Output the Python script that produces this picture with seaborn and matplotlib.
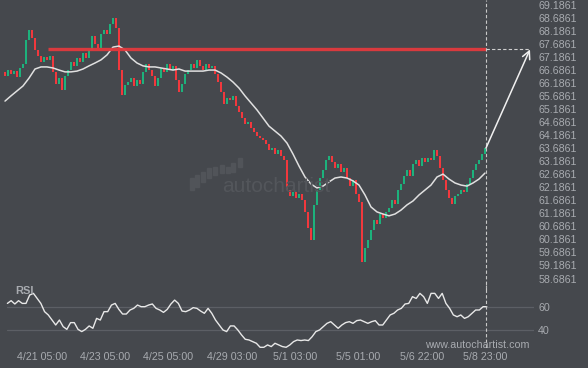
import numpy as np
import pandas as pd
import matplotlib
matplotlib.use('Agg')
import matplotlib.pyplot as plt
import seaborn as sns

# -------------------------
# data (hourly candles, resampled to ~3 px)
# -------------------------
first_open = 66.60
closes = [
    66.45, 66.68, 66.53, 66.64, 66.41, 66.76, 66.91, 67.83, 68.22, 67.91,
    67.45, 67.22, 66.99, 67.18, 67.07, 67.22, 66.61, 66.15, 66.37, 65.92,
    66.45, 66.68, 66.99, 66.84, 67.14, 66.99, 67.33, 67.14, 67.45, 67.99,
    67.68, 67.53, 68.06, 68.22, 68.06, 68.45, 68.68, 68.29, 66.68, 65.72,
    66.11, 66.22, 66.37, 66.07, 66.30, 66.15, 66.61, 66.91, 66.68, 66.45,
    66.07, 66.37, 66.76, 66.61, 66.91, 66.68, 66.84, 66.30, 65.84, 66.15,
    66.53, 66.68, 66.91, 66.76, 67.07, 66.84, 66.68, 66.91, 66.76, 66.84,
    66.53, 66.22, 65.84, 65.38, 65.61, 65.53, 65.69, 65.30, 65.07, 64.84,
    64.61, 64.69, 64.46, 64.31, 64.15, 64.08, 64.00, 63.85, 63.62, 63.69,
    63.46, 63.62, 63.39, 63.23, 62.08, 61.85, 62.00, 61.77, 61.93, 61.70,
    61.24, 60.62, 60.16, 61.51, 62.08, 62.54, 62.85, 63.23, 63.39, 63.16,
    62.92, 63.08, 62.77, 62.92, 62.54, 62.23, 62.46, 61.93, 61.62, 59.32,
    59.86, 60.16, 60.55, 60.93, 60.78, 61.16, 61.01, 61.24, 61.39, 61.70,
    61.54, 62.08, 62.31, 62.62, 62.85, 62.62, 63.08, 63.23, 63.00, 63.31,
    63.16, 63.31, 63.23, 63.62, 63.39, 62.92, 62.46, 62.08, 61.77, 61.54,
    61.85, 61.93, 62.08, 62.00, 62.31, 62.54, 62.85, 63.08, 63.23, 63.46,
    63.69,
]

# moving average, every 2nd candle
ma_values = [
    65.49, 65.69, 65.88, 66.07, 66.37, 66.72, 66.80, 66.80, 66.76, 66.68,
    66.61, 66.61, 66.64, 66.72, 66.84, 66.95, 67.07, 67.26, 67.56, 67.60,
    67.45, 67.14, 66.95, 66.84, 66.80, 66.80, 66.76, 66.72, 66.68, 66.72,
    66.64, 66.64, 66.64, 66.64, 66.68, 66.68, 66.57, 66.41, 66.22, 65.99,
    65.69, 65.42, 65.15, 64.84, 64.53, 64.34, 64.15, 63.88, 63.46, 63.00,
    62.58, 62.31, 62.16, 62.23, 62.39, 62.54, 62.58, 62.54, 62.43, 62.27,
    61.89, 61.43, 61.24, 61.16, 61.09, 61.16, 61.31, 61.51, 61.66, 61.89,
    62.08, 62.27, 62.58, 62.69, 62.50, 62.35, 62.27, 62.23, 62.35, 62.50,
    62.73,
]

rsi_values = [
    62.8, 65.1, 62.3, 65.1, 62.8, 62.8, 69.9, 71.3, 67.0, 62.8,
    55.8, 53.0, 48.7, 44.5, 48.7, 43.1, 40.8, 46.5, 46.5, 40.8,
    38.9, 40.8, 43.7, 41.7, 50.1, 48.7, 55.8, 55.8, 61.4, 62.8,
    57.7, 53.8, 53.8, 57.2, 58.6, 61.4, 60.0, 60.0, 61.4, 62.3,
    58.6, 57.2, 55.2, 57.7, 62.3, 65.6, 62.8, 56.3, 55.8, 57.2,
    59.2, 58.6, 56.3, 54.4, 58.6, 54.4, 48.7, 44.5, 40.3, 38.9,
    43.7, 43.7, 40.3, 36.1, 32.4, 31.8, 30.4, 29.0, 25.6, 25.6,
    27.6, 26.2, 29.0, 27.6, 26.2, 25.6, 27.6, 30.4, 31.8, 31.3,
    31.8, 31.3, 34.6, 38.9, 40.3, 43.1, 45.9, 47.3, 44.5, 41.7,
    44.5, 46.5, 47.3, 45.9, 48.2, 48.7, 47.3, 45.9, 47.3, 48.2,
    44.5, 44.5, 48.7, 53.0, 54.4, 57.2, 58.6, 62.3, 62.8, 68.5,
    67.0, 71.3, 68.5, 62.8, 71.3, 71.3, 67.0, 71.3, 62.8, 58.6,
    53.0, 51.5, 53.0, 50.1, 51.5, 54.4, 57.2, 57.2, 60.0, 60.0,
]

target_level = 67.47
tick_labels = ['4/21 05:00', '4/23 05:00', '4/25 05:00', '4/29 03:00',
               '5/1 03:00', '5/5 01:00', '5/6 22:00', '5/8 23:00']

# -------------------------
# preparation
# -------------------------
df = pd.DataFrame({'close': closes})
df['open'] = [first_open] + closes[:-1]
df['i'] = np.arange(len(df))
df['up'] = df['close'] >= df['open']

df_ma = pd.DataFrame({'i': np.arange(0, len(closes), 2), 'ma': ma_values})
df_rsi = pd.DataFrame({'i': np.linspace(0.8, 160.6, len(rsi_values)), 'rsi': rsi_values})

bg = '#45484d'
txt = '#a8abb0'
green = '#1db27c'
red = '#f2383d'

sns.set_theme(style='dark', rc={'axes.facecolor': 'none', 'figure.facecolor': bg,
                                'axes.edgecolor': bg})
plt.rcParams['font.family'] = ['Liberation Sans', 'DejaVu Sans']

W, H = 588, 368
fig = plt.figure(figsize=(W / 100, H / 100), dpi=100)
ax = fig.add_axes([0, 1 - 290 / H, 534 / W, 290 / H])
ax_rsi = fig.add_axes([0, (H - 348) / H, 534 / W, 63 / H])

xlim = (-5 / 3, (534 - 5) / 3)
last_x = 160.33
end_x = 175

# watermark (logo bars in pixels: x centre, top, bottom)
logo = [(192, 178, 190), (197, 175, 187), (203, 172, 182), (209, 168, 178),
        (215, 167, 175), (222, 165, 173), (228, 167, 173), (233, 163, 172),
        (240, 158, 167)]
for px, y0, y1 in logo:
    fig.patches.append(plt.Rectangle((px - 1.6, H - y1), 3.2, y1 - y0,
                                     transform=None, color='#515459', zorder=0))
fig.text(222 / W, 1 - 186 / H, 'autochartist', color='#53565b', fontsize=15,
         va='center', ha='left', zorder=0)

# candles
body = (df['close'] - df['open']).abs().clip(lower=0.03)
bottom = df[['open', 'close']].min(axis=1)
ax.bar(df['i'], body, bottom=bottom, width=0.7,
       color=np.where(df['up'], green, red), linewidth=0, zorder=2)

sns.lineplot(data=df_ma, x='i', y='ma', ax=ax, color='#e0e0e0', lw=1.1, zorder=3)

ax.plot([14.33, last_x], [target_level, target_level], color='#e23a3e', lw=2.4,
        alpha=0.95, zorder=4, solid_capstyle='butt')
ax.plot([last_x, end_x], [target_level, target_level], color='#d0d0d0', lw=0.8,
        ls=(0, (3, 2)), zorder=4)
ax.annotate('', xy=(end_x, target_level), xytext=(last_x, closes[-1]),
            arrowprops=dict(arrowstyle='->', color='#f0f0f0', lw=1.1,
                            mutation_scale=14, shrinkA=0, shrinkB=0), zorder=5)
ax.axvline(last_x, color='#c8c8c8', lw=0.8, ls=(0, (3, 2)), zorder=4)

ax.set_xlim(*xlim)
ax.set_ylim(69.366 - 290 / 26.08, 69.366)
ax.yaxis.tick_right()
price_ticks = 58.6861 + 0.5 * np.arange(22)
ax.set_yticks(price_ticks)
ax.set_yticklabels(['%.4f' % v for v in price_ticks])
ax.set_xticks([])
ax.tick_params(axis='y', length=0, pad=3, labelsize=7.7, labelcolor=txt)
ax.set_xlabel('')
ax.set_ylabel('')
for s in ax.spines.values():
    s.set_visible(False)

# RSI panel
for lvl in (60, 40):
    ax_rsi.axhline(lvl, xmin=0.014, color='#5c5f65', lw=0.9, zorder=1)
sns.lineplot(data=df_rsi, x='i', y='rsi', ax=ax_rsi, color='#e8e8e8', lw=1.0, zorder=3)
ax_rsi.axvline(last_x, color='#c8c8c8', lw=0.8, ls=(0, (3, 2)), zorder=4)
ax_rsi.set_xlim(*xlim)
ax_rsi.set_ylim(40 - (348 - 330.3) / 1.18, 60 + (306.7 - 285) / 1.18)
ax_rsi.yaxis.tick_right()
ax_rsi.set_yticks([40, 60])
ax_rsi.set_xticks(12.3 + 21.1 * np.arange(len(tick_labels)))
ax_rsi.set_xticklabels(tick_labels)
ax_rsi.tick_params(length=0, labelsize=7.7, labelcolor=txt)
ax_rsi.tick_params(axis='y', pad=3)
ax_rsi.tick_params(axis='x', pad=3)
ax_rsi.set_xlabel('')
ax_rsi.set_ylabel('')
for s in ax_rsi.spines.values():
    s.set_visible(False)
ax_rsi.text(0.028, 0.9, 'RSI', transform=ax_rsi.transAxes, color=txt, fontsize=8,
            fontweight='bold', va='center')
fig.text(425 / W, 1 - 345 / H, 'www.autochartist.com', color=txt, fontsize=7.7,
         va='center', ha='left')

fig.savefig('out.png', dpi=100, facecolor=bg)
